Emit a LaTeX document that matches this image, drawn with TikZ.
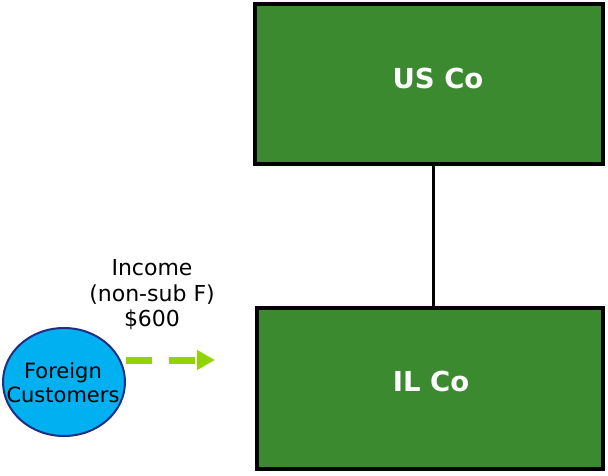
\documentclass[tikz,border=0pt]{standalone}
\usepackage{fontspec}
\setmainfont{DejaVu Sans}
\usetikzlibrary{arrows.meta,shapes.geometric}
\definecolor{boxgreen}{HTML}{3C8A2F}
\definecolor{custblue}{HTML}{00B0F0}
\definecolor{custedge}{HTML}{1F2F86}
\definecolor{lime}{HTML}{92D400}
\begin{document}
\begin{tikzpicture}[x=1pt,y=-1pt,
  entity/.style={draw=black,line width=4pt,fill=boxgreen,rectangle,inner sep=0pt},
  entitytext/.style={text=white,font=\fontsize{27.5}{32}\selectfont\bfseries},
  cust/.style={ellipse,draw=custedge,line width=2pt,fill=custblue,inner sep=0pt,
    minimum width=122pt,minimum height=108pt},
  lbl/.style={align=center,inner sep=0pt},
  flow/.style={draw=lime,line width=7pt,dash pattern=on 26pt off 17pt,
    -{Triangle[length=18pt,width=19pt,fill=lime]}}]
\useasboundingbox (0,0) rectangle (608,476);
\node[entity,minimum width=348pt,minimum height=160pt] (us) at (429,84) {};
\node[entitytext] (ustext) at (438,78) {US Co};
\node[entity,minimum width=346pt,minimum height=161pt] (il) at (429.5,388) {};
\node[entitytext] (iltext) at (431,381) {IL Co};
\coordinate (usc) at (433,84);
\draw[line width=3pt] (us.south -| usc) -- (il.north -| usc);
\node[cust] (fc) at (64,382) {};
\node[lbl,font=\fontsize{21}{24}\selectfont] (fctext) at (63,383) {Foreign\\Customers};
\node[lbl,font=\fontsize{22}{25.5}\selectfont] (inc) at (152,295) {Income\\(non-sub F)\\\$600};
\coordinate (fstart) at (126,360);
\coordinate (fend) at (215,360);
\draw[flow] (fstart) -- (fend);
\end{tikzpicture}
\end{document}
